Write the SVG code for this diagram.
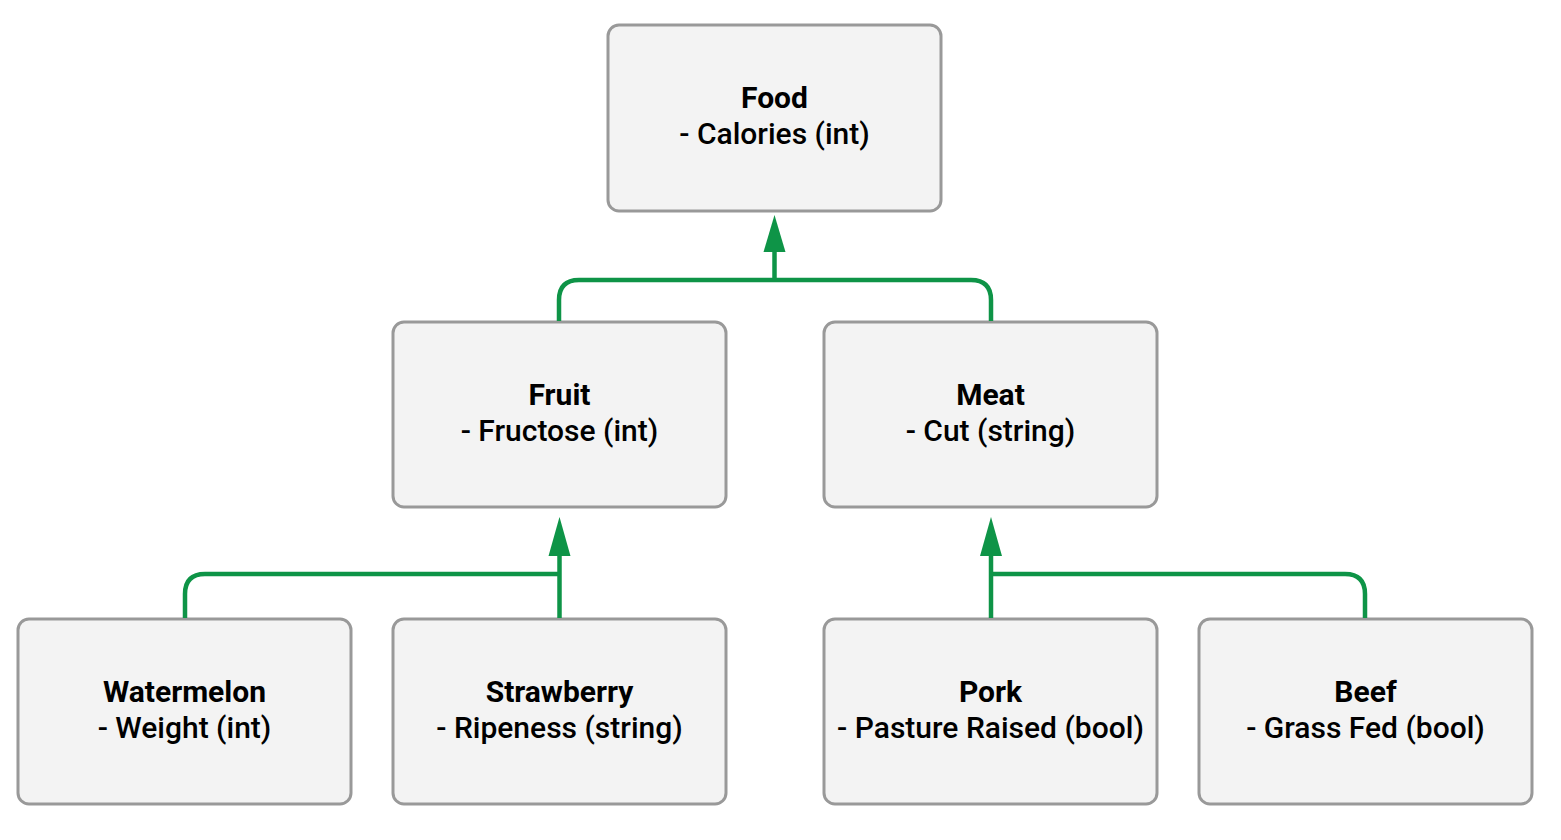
<svg xmlns="http://www.w3.org/2000/svg" width="1561" height="840" viewBox="0 0 1561 840">
<style>
.box{fill:#f3f3f3;stroke:#999999;stroke-width:3}
.t{font-family:Roboto,"Liberation Sans",sans-serif;font-size:30px;fill:#000;text-anchor:middle}
.h{font-weight:700}
.s{font-weight:500}
.c{fill:none;stroke:#0e9447;stroke-width:4.5}
.a{fill:#0e9447}
</style>
<rect width="1561" height="840" fill="#ffffff"/>
<g id="node-food"><rect class="box" x="608" y="25" width="333" height="186" rx="11"/><text class="t h" x="774.5" y="108">Food</text><text class="t s" x="774.5" y="144">- Calories (int)</text></g>
<g id="node-fruit"><rect class="box" x="393" y="322" width="333" height="185" rx="11"/><text class="t h" x="559.5" y="405">Fruit</text><text class="t s" x="559.5" y="441">- Fructose (int)</text></g>
<g id="node-meat"><rect class="box" x="824" y="322" width="333" height="185" rx="11"/><text class="t h" x="990.5" y="405">Meat</text><text class="t s" x="990.5" y="441">- Cut (string)</text></g>
<g id="node-watermelon"><rect class="box" x="18" y="619" width="333" height="185" rx="11"/><text class="t h" x="184.5" y="702">Watermelon</text><text class="t s" x="184.5" y="738">- Weight (int)</text></g>
<g id="node-strawberry"><rect class="box" x="393" y="619" width="333" height="185" rx="11"/><text class="t h" x="559.5" y="702">Strawberry</text><text class="t s" x="559.5" y="738">- Ripeness (string)</text></g>
<g id="node-pork"><rect class="box" x="824" y="619" width="333" height="185" rx="11"/><text class="t h" x="990.5" y="702">Pork</text><text class="t s" x="990.5" y="738">- Pasture Raised (bool)</text></g>
<g id="node-beef"><rect class="box" x="1199" y="619" width="333" height="185" rx="11"/><text class="t h" x="1365.5" y="702">Beef</text><text class="t s" x="1365.5" y="738">- Grass Fed (bool)</text></g>
<g id="connectors">
<path class="c" d="M559,321 V300 Q559,280 579,280 H971 Q991,280 991,300 V321"/>
<path class="c" d="M774.5,280 V250"/>
<polygon class="a" points="774.5,215 763.5,252 785.5,252"/>
<path class="c" d="M185,618 V594 Q185,574 205,574 H559"/>
<path class="c" d="M559.5,618 V553"/>
<polygon class="a" points="559.5,517 548.5,556 570.5,556"/>
<path class="c" d="M991,574 H1345 Q1365,574 1365,594 V618"/>
<path class="c" d="M991,618 V553"/>
<polygon class="a" points="991,517 980,556 1002,556"/>
</g>
</svg>
